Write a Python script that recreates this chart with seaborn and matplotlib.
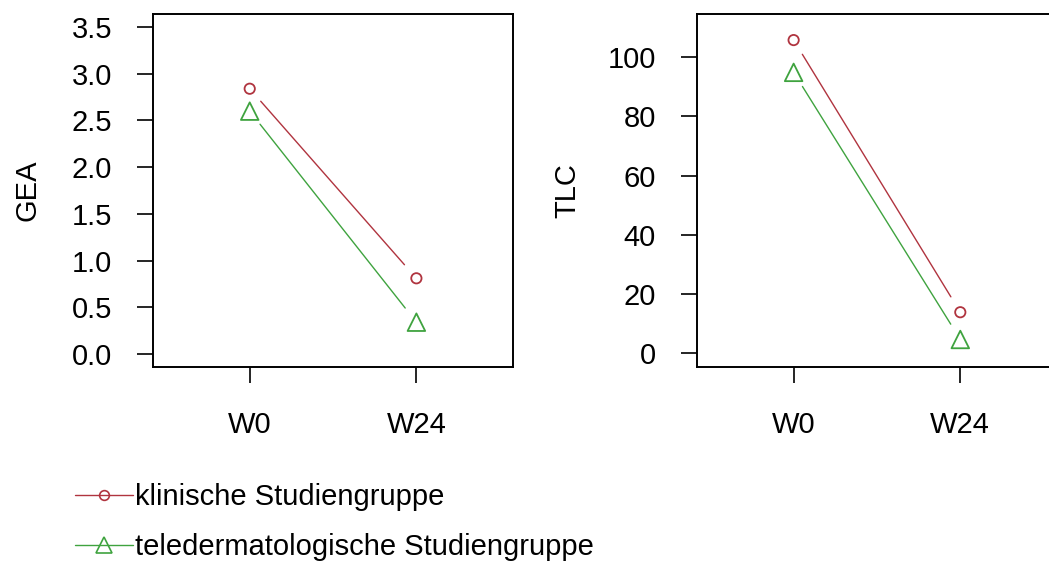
import matplotlib
matplotlib.use("Agg")
import matplotlib.pyplot as plt
from matplotlib.lines import Line2D
import seaborn as sns
import pandas as pd

# ---- data ----
timepoints = ["W0", "W24"]
groups = ["klinische Studiengruppe", "teledermatologische Studiengruppe"]
gea_klinisch = [2.84, 0.81]
gea_tele = [2.60, 0.34]
tlc_klinisch = [105.8, 13.9]
tlc_tele = [94.9, 4.7]
gea_ticks = [0.0, 0.5, 1.0, 1.5, 2.0, 2.5, 3.0, 3.5]
tlc_ticks = [0, 20, 40, 60, 80, 100]

colors = {groups[0]: "#b0343f", groups[1]: "#3fa33f"}
markers = {groups[0]: "o", groups[1]: "^"}
msizes = {groups[0]: 55, groups[1]: 160}

sns.set_style("white")
plt.rcParams["font.family"] = ["Liberation Sans", "DejaVu Sans"]
for k in ["text.color", "axes.labelcolor", "xtick.color", "ytick.color"]:
    plt.rcParams[k] = "black"

FS = 21

fig = plt.figure(figsize=(10.49, 5.63), dpi=100)
axw = 0.3432
ax1 = fig.add_axes([0.1459, 0.3481, axw, 0.627])
ax2 = fig.add_axes([0.6644, 0.3481, axw, 0.627])


def make_df(a, b):
    rows = []
    for g, vals in zip(groups, [a, b]):
        for t, v in zip(timepoints, vals):
            rows.append({"Zeit": t, "Wert": v, "Gruppe": g})
    return pd.DataFrame(rows)


def panel(ax, a, b, ylabel, ticks, ylim, fmt, labx):
    df = make_df(a, b)
    for g, vals in zip(groups, [a, b]):
        ax.annotate("", xy=(1, vals[1]), xytext=(0, vals[0]), xycoords="data",
                    arrowprops=dict(arrowstyle="-", color=colors[g], lw=1.0,
                                    shrinkA=12, shrinkB=13))
        sub = df[df["Gruppe"] == g]
        sns.scatterplot(data=sub, x="Zeit", y="Wert", ax=ax, marker=markers[g],
                        s=msizes[g], facecolor="none", edgecolor=colors[g],
                        linewidth=1.3, legend=False, zorder=3)
    ax.set_xlim(-0.58, 1.58)
    ax.set_ylim(*ylim)
    ax.set_yticks(ticks)
    ax.set_yticklabels([fmt(t) for t in ticks])
    ax.set_xticks([0, 1])
    ax.set_xticklabels(timepoints)
    ax.set_xlabel("")
    ax.set_ylabel(ylabel, fontsize=FS)
    ax.yaxis.set_label_coords(labx, 0.5)
    ax.tick_params(axis="both", which="both", direction="out", length=11.5,
                   width=1.2, color="black", labelsize=FS, left=True, bottom=True)
    ax.tick_params(axis="y", pad=18)
    ax.tick_params(axis="x", pad=20)
    for s in ax.spines.values():
        s.set_color("black")
        s.set_linewidth(1.4)
        s.set_visible(True)


panel(ax1, gea_klinisch, gea_tele, "GEA", gea_ticks, (-0.14, 3.64),
      lambda t: f"{t:.1f}", -0.31)
panel(ax2, tlc_klinisch, tlc_tele, "TLC", tlc_ticks, (-4.6, 114.6),
      lambda t: f"{t:d}", -0.32)

handles = [Line2D([], [], color=colors[g], lw=1.0, marker=markers[g],
                  markersize=7 if markers[g] == "o" else 11,
                  markerfacecolor="none", markeredgecolor=colors[g], markeredgewidth=1.2)
           for g in groups]
fig.legend(handles, groups, loc="upper left", bbox_to_anchor=(0.0715, 0.142),
           frameon=False, fontsize=FS, handlelength=2.0, handletextpad=0.05,
           labelspacing=0.75, borderaxespad=0, borderpad=0)

fig.savefig("out.png", dpi=100, facecolor="white")
